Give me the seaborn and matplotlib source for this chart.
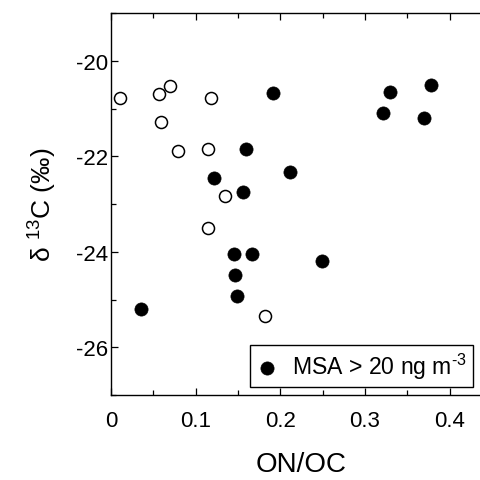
import matplotlib
matplotlib.use("Agg")
import matplotlib.pyplot as plt
import pandas as pd
import seaborn as sns

# open circles: MSA <= 20 ng m-3
low_onoc = [0.011, 0.057, 0.070, 0.059, 0.079, 0.118, 0.114, 0.135, 0.115, 0.182]
low_d13c = [-20.78, -20.69, -20.53, -21.29, -21.89, -20.78, -21.85, -22.84, -23.50, -25.34]

# filled circles: MSA > 20 ng m-3
high_onoc = [0.036, 0.122, 0.159, 0.156, 0.191, 0.212, 0.145, 0.167, 0.147, 0.149,
             0.249, 0.321, 0.329, 0.370, 0.378]
high_d13c = [-25.20, -22.46, -21.85, -22.74, -20.68, -22.32, -24.04, -24.04, -24.48, -24.93,
             -24.20, -21.10, -20.66, -21.19, -20.50]

x_ticks = [0, 0.1, 0.2, 0.3, 0.4]
x_ticklabels = ["0", "0.1", "0.2", "0.3", "0.4"]
y_ticks = [-26, -24, -22, -20]

sns.set_style("ticks", {"text.color": "black", "axes.labelcolor": "black",
                        "xtick.color": "black", "ytick.color": "black",
                        "axes.edgecolor": "black"})
plt.rcParams["font.family"] = ["Liberation Sans", "DejaVu Sans"]
plt.rcParams["mathtext.fontset"] = "custom"
plt.rcParams["mathtext.rm"] = "Liberation Sans"
plt.rcParams["mathtext.it"] = "Liberation Sans"
plt.rcParams["axes.unicode_minus"] = False

low = pd.DataFrame({"onoc": low_onoc, "d13c": low_d13c})
high = pd.DataFrame({"onoc": high_onoc, "d13c": high_d13c})

fig = plt.figure(figsize=(4.81, 4.81), dpi=100)
ax = fig.add_axes([0.2308, 0.1767, 0.792, 0.794])

sns.scatterplot(data=low, x="onoc", y="d13c", ax=ax, s=75, marker="o",
                facecolor="white", edgecolor="black", linewidth=1.1, legend=False, clip_on=False)
sns.scatterplot(data=high, x="onoc", y="d13c", ax=ax, s=90, marker="o",
                color="black", edgecolor="black", linewidth=0.5,
                label=r"MSA > 20 ng m$^{\text{-3}}$", clip_on=False)

ax.set_xlim(0, 0.45)
ax.set_ylim(-27, -19)
ax.set_xticks(x_ticks)
ax.set_xticklabels(x_ticklabels)
ax.set_xticks([0.05, 0.15, 0.25, 0.35], minor=True)
ax.set_yticks(y_ticks)
ax.set_yticks([-27, -25, -23, -21, -19], minor=True)

ax.tick_params(which="both", direction="in", top=True, right=False, width=0.9, colors="black")
ax.tick_params(which="major", length=5)
ax.tick_params(which="minor", length=3.5)
ax.tick_params(axis="x", which="major", labelsize=16, pad=11)
ax.tick_params(axis="y", which="major", labelsize=16, pad=2)

for side in ["left", "bottom", "top"]:
    ax.spines[side].set_linewidth(1.0)
    ax.spines[side].set_color("black")
ax.spines["right"].set_visible(False)

ax.set_xlabel("ON/OC", fontsize=20, labelpad=14)
ax.set_ylabel("\u03b4 $^{13}$C (\u2030)", fontsize=19, labelpad=12)

leg = ax.legend(loc="lower left", bbox_to_anchor=(0.365, 0.021), fontsize=16.6,
                frameon=True, fancybox=False, handletextpad=0.57, borderpad=0.25,
                handlelength=1.0, borderaxespad=0)
leg.get_frame().set_edgecolor("black")
leg.get_frame().set_linewidth(1.0)
leg.get_frame().set_alpha(1)

fig.savefig("out.png", dpi=100)
